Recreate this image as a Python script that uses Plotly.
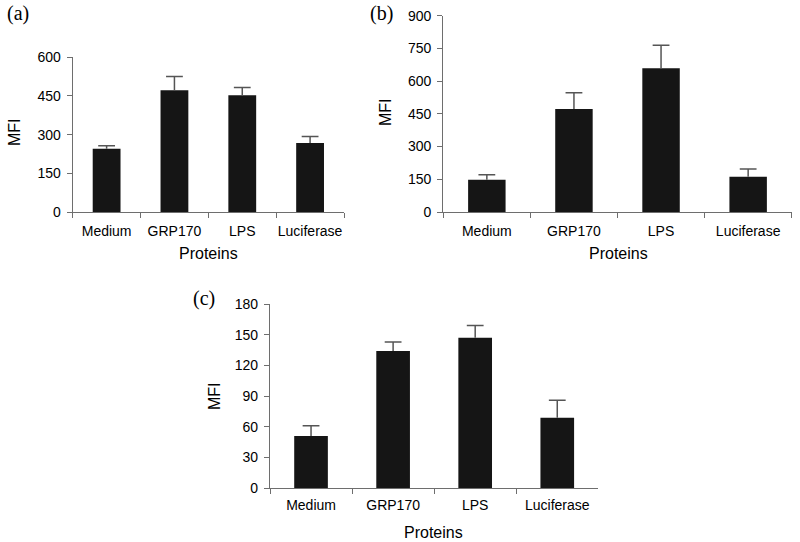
import plotly.graph_objects as go

categories = ["Medium", "GRP170", "LPS", "Luciferase"]

mfi_a = [245, 472, 453, 268]
err_a = [12, 54, 30, 25]

mfi_b = [148, 472, 659, 162]
err_b = [23, 75, 105, 35]

mfi_c = [51, 134, 147, 69]
err_c = [10, 9, 12, 17]

yticks_a = [0, 150, 300, 450, 600]
yticks_b = [0, 150, 300, 450, 600, 750, 900]
yticks_c = [0, 30, 60, 90, 120, 150, 180]

panel_labels = ["(a)", "(b)", "(c)"]
x_title = "Proteins"
y_title = "MFI"

W, H = 800, 542
FONT = "Liberation Sans, Arial, sans-serif"
SERIF = "Liberation Serif, Times New Roman, serif"
BAR = "#151515"
AXIS = "#6e6e6e"
ERR = "#555555"

fig = go.Figure()

def px(x):
    return x / W

def py(y):
    return 1 - y / H

panels = [
    (mfi_a, err_a, yticks_a, "", (72.7, 344.0), (57.3, 212.0), 0.41, 6),
    (mfi_b, err_b, yticks_b, "2", (443.3, 791.7), (15.7, 212.0), 0.43, 6),
    (mfi_c, err_c, yticks_c, "3", (270.0, 598.3), (304.0, 488.3), 0.41, 4),
]

for vals, errs, ticks, sid, (x0, x1), (yt, yb), bw, xso in panels:
    fig.add_trace(go.Bar(
        x=categories, y=vals,
        xaxis="x" + sid, yaxis="y" + sid,
        width=bw,
        marker=dict(color=BAR, line=dict(width=0)),
        error_y=dict(type="data", symmetric=False, array=errs,
                     arrayminus=[0] * len(errs),
                     color=ERR, thickness=1.5, width=0),
        showlegend=False,
        hoverinfo="x+y",
    ))
    tops = [v + e for v, e in zip(vals, errs)]
    fig.add_trace(go.Scatter(
        x=categories, y=tops,
        xaxis="x" + sid, yaxis="y" + sid,
        mode="markers",
        marker=dict(symbol="line-ew", size=12, line=dict(color=ERR, width=1.5)),
        showlegend=False, hoverinfo="skip",
    ))
    xa = dict(
        domain=[px(x0), px(x1)],
        anchor="y" + sid,
        type="category",
        range=[-0.5, len(categories) - 0.5],
        showline=True, linecolor=AXIS, linewidth=1.2,
        ticks="outside", tickson="boundaries", ticklen=5, tickcolor=AXIS, tickwidth=1.2,
        showgrid=False, zeroline=False,
        tickangle=0, automargin=False,
        ticklabelstandoff=xso,
        tickfont=dict(family=FONT, size=14, color="black"),
        fixedrange=True,
    )
    ya = dict(
        domain=[py(yb), py(yt)],
        anchor="x" + sid,
        range=[ticks[0], ticks[-1]],
        tickvals=ticks,
        showline=True, linecolor=AXIS, linewidth=1.2,
        ticks="outside", ticklen=5, tickcolor=AXIS, tickwidth=1.2,
        showgrid=False, zeroline=False, automargin=False,
        tickfont=dict(family=FONT, size=14, color="black"),
        ticklabelstandoff=3,
        fixedrange=True,
    )
    fig.update_layout({"xaxis" + sid: xa, "yaxis" + sid: ya})

annotations = []
title_pos = [
    ((14, 132), (208, 253)),
    ((386, 112), (618, 253)),
    ((214, 396), (433, 532)),
]
for (mx, my), (tx, ty) in title_pos:
    annotations.append(dict(text=y_title, x=px(mx), y=py(my), xref="paper", yref="paper",
                            showarrow=False, textangle=-90, xanchor="center", yanchor="middle",
                            font=dict(family=FONT, size=16, color="black")))
    annotations.append(dict(text=x_title, x=px(tx), y=py(ty), xref="paper", yref="paper",
                            showarrow=False, xanchor="center", yanchor="middle",
                            font=dict(family=FONT, size=16, color="black")))
label_pos = [(18, 14), (381, 14), (204, 298)]
for lab, (lx, ly) in zip(panel_labels, label_pos):
    annotations.append(dict(text=lab, x=px(lx), y=py(ly), xref="paper", yref="paper",
                            showarrow=False, xanchor="center", yanchor="middle",
                            font=dict(family=SERIF, size=20, color="black")))

fig.update_layout(
    width=W, height=H,
    margin=dict(l=0, r=0, t=0, b=0, autoexpand=False),
    paper_bgcolor="white", plot_bgcolor="white",
    annotations=annotations,
    showlegend=False,
)

fig.write_html("out.html", config={"displayModeBar": False},
               post_script="document.body.style.margin='0';document.body.style.overflow='hidden';")
